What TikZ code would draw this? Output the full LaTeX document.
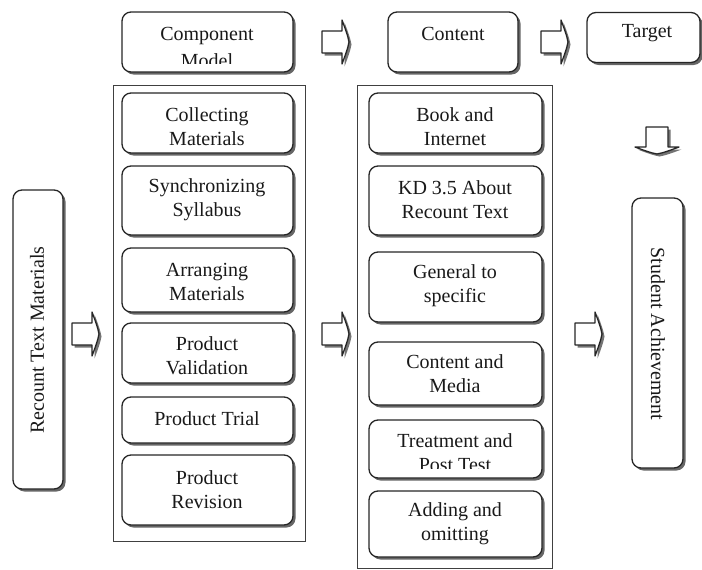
\documentclass[tikz,border=0pt]{standalone}
\usepackage{fontspec}
\setmainfont{Liberation Serif}
\usetikzlibrary{shadows}
\newcommand\blockarr[4]{%
  \coordinate (#1) at (#2,#3);
  \begin{scope}[shift={(#1)}, shift={(2.5,2.5)}, rotate=#4]
    \fill[black!55] (0,-11) -- (20,-11) -- (20,-22) .. controls (23,-14) and (26,-6) .. (27,0) .. controls (26,6) and (23,14) .. (20,22) -- (20,11) -- (0,11) -- cycle;
  \end{scope}
  \begin{scope}[shift={(#1)}, rotate=#4]
    \draw[fill=white, line width=1.3pt, draw=black!85, line join=round] (0,-11) -- (20,-11) -- (20,-22) .. controls (23,-14) and (26,-6) .. (27,0) .. controls (26,6) and (23,14) .. (20,22) -- (20,11) -- (0,11) -- cycle;
  \end{scope}}
\begin{document}
\begin{tikzpicture}[x=1pt,y=-1pt,
  rbox/.style={draw=black!85, line width=1.3pt, rounded corners=9pt, fill=white, inner sep=0pt,
    drop shadow={shadow xshift=2.5pt, shadow yshift=-2.5pt, fill=black!60, opacity=1}},
  framebox/.style={draw=black!75, line width=1pt, inner sep=0pt},
  txt/.style={align=center, font=\fontsize{20}{24}\selectfont, text=black!90, inner sep=0pt},
  ]
\useasboundingbox (0,0) rectangle (702,570);

% outer frames
\node[framebox, minimum width=192pt, minimum height=456pt] (f1) at (209,313) {};
\node[framebox, minimum width=195pt, minimum height=483pt] (f2) at (454.5,326.5) {};

% top row
\node[rbox, minimum width=171pt, minimum height=60pt] (cm) at (207.5,42) {};
\begin{scope}
  \clip (122,12) rectangle (293,63);
  \node[txt, font=\fontsize{20}{27}\selectfont] (cmt) at (207,47) {Component\\Model};
\end{scope}
\node[rbox, minimum width=130pt, minimum height=60pt] (ct) at (453,42) {};
\node[txt] (ctt) at (453,34) {Content};
\node[rbox, minimum width=113pt, minimum height=50pt] (tg) at (643.5,37.5) {};
\node[txt] (tgt) at (647,33) {Target};

% left column
\node[rbox, minimum width=171pt, minimum height=60pt] (l1) at (207.5,123) {};
\node[txt] (l1t) at (207,127) {Collecting\\Materials};
\node[rbox, minimum width=171pt, minimum height=69pt] (l2) at (207.5,200.5) {};
\node[txt] (l2t) at (207,200) {Synchronizing\\Syllabus};
\node[rbox, minimum width=171pt, minimum height=64pt] (l3) at (207.5,280) {};
\node[txt] (l3t) at (207,282) {Arranging\\Materials};
\node[rbox, minimum width=171pt, minimum height=60pt] (l4) at (207.5,353) {};
\node[txt] (l4t) at (207,356) {Product\\Validation};
\node[rbox, minimum width=171pt, minimum height=46pt] (l5) at (207.5,420) {};
\node[txt] (l5t) at (207,419) {Product Trial};
\node[rbox, minimum width=171pt, minimum height=70pt] (l6) at (207.5,490) {};
\node[txt] (l6t) at (207,490) {Product\\Revision};

% right column
\node[rbox, minimum width=173pt, minimum height=60pt] (r1) at (455.5,123) {};
\node[txt] (r1t) at (455,127) {Book and\\Internet};
\node[rbox, minimum width=173pt, minimum height=69pt] (r2) at (455.5,200.5) {};
\node[txt] (r2t) at (455,200) {KD 3.5 About\\Recount Text};
\node[rbox, minimum width=173pt, minimum height=70pt] (r3) at (455.5,287) {};
\node[txt] (r3t) at (455,286) {General to\\specific};
\node[rbox, minimum width=173pt, minimum height=63pt] (r4) at (455.5,373.5) {};
\node[txt] (r4t) at (455,374) {Content and\\Media};
\node[rbox, minimum width=173pt, minimum height=58pt] (r5) at (455.5,449) {};
\begin{scope}
  \clip (369,420) rectangle (542,468);
  \node[txt] (r5t) at (455,453) {Treatment and\\Post Test};
\end{scope}
\node[rbox, minimum width=173pt, minimum height=66pt] (r6) at (455.5,524) {};
\node[txt] (r6t) at (455,524) {Adding and\\omitting};

% side boxes
\node[rbox, minimum width=50pt, minimum height=299pt] (rec) at (38,339.5) {};
\node[txt, rotate=90] (rect) at (37,340) {Recount Text Materials};
\node[rbox, minimum width=51pt, minimum height=270pt] (stu) at (657.5,333) {};
\node[txt, rotate=-90] (stut) at (658,334) {Student Achievement};

% block arrows
\blockarr{a1}{322}{42}{0}
\blockarr{a2}{541}{42}{0}
\blockarr{a3}{72}{334}{0}
\blockarr{a4}{322}{334}{0}
\blockarr{a5}{575}{334}{0}
\blockarr{a6}{657}{127}{-90}
\end{tikzpicture}
\end{document}
